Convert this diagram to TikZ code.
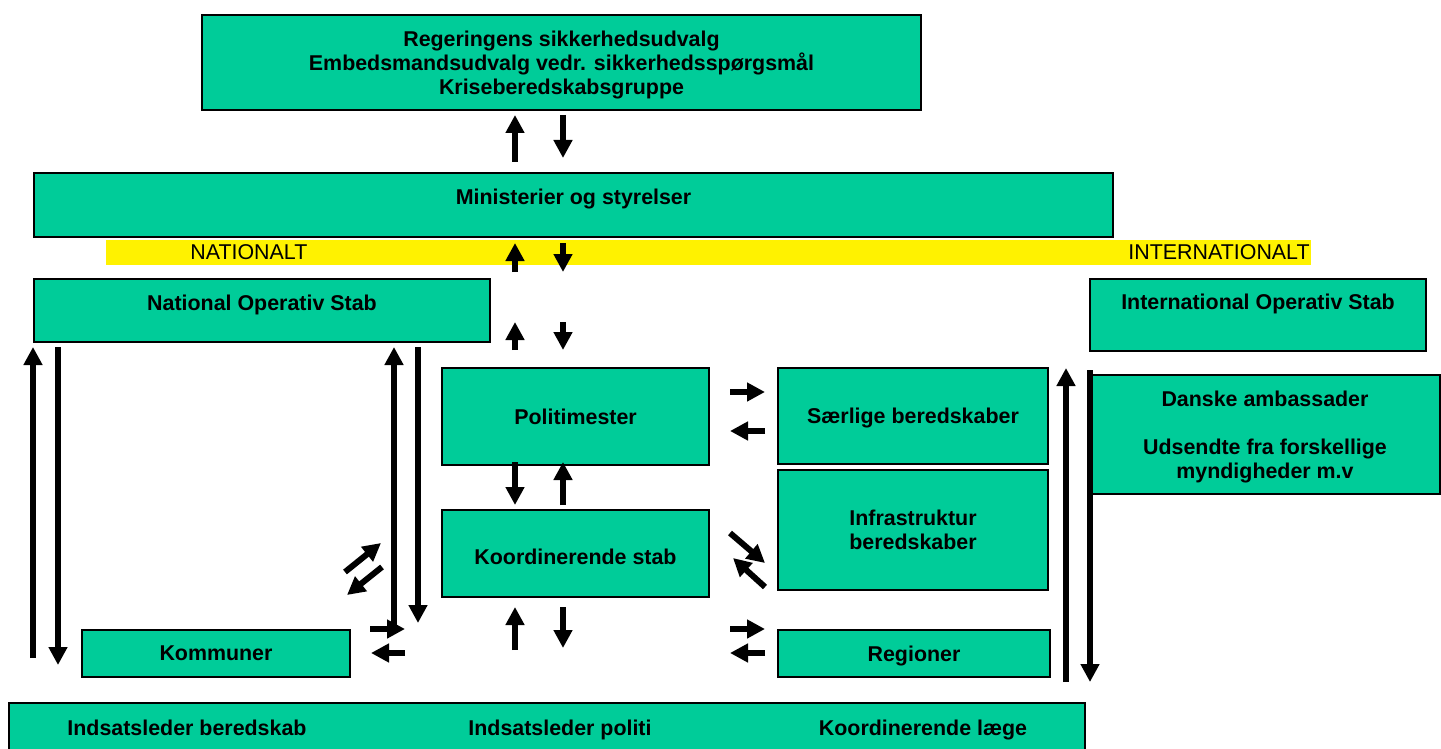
\documentclass[tikz,border=0pt]{standalone}
\usepackage{fontspec}
\setmainfont{Liberation Sans}
\usetikzlibrary{arrows.meta, positioning, calc}

\definecolor{boxgreen}{HTML}{00CC99}

\begin{document}
\begin{tikzpicture} [x=0.5pt, y=-0.5pt,
  box/.style={draw, line width=0.75pt, fill=boxgreen, align=center, inner sep=0pt, outer sep=0pt,
    text depth=0pt, font=\fontsize{10.7}{12}\selectfont\bfseries},
  lbl/.style={align=center, inner sep=0pt, text height=7.8pt, text depth=0pt,
    font=\fontsize{10.7}{12}\selectfont\bfseries},
  plain/.style={inner sep=0pt, font=\fontsize{10.7}{12}\selectfont},
  arr/.style={line width=3pt, -{Triangle[length=9pt, width=9pt]}}]

\useasboundingbox (0,0) rectangle (1441,749);

\node (rege) [box, minimum width=359.5pt, minimum height=47.5pt] at (561.5,62.5)
  {Regeringens sikkerhedsudvalg\\Embedsmandsudvalg vedr. sikkerhedsspørgsmål\\Kriseberedskabsgruppe};
\node (min) [box, minimum width=539.5pt, minimum height=32pt,
  label={[lbl, yshift=4pt]center:Ministerier og styrelser}] at (573.5,205) {};
\node (band) [fill=yellow, inner sep=0pt, outer sep=0pt, minimum width=602.5pt, minimum height=12.5pt] at (708.5,252.5) {};
\node (natl) [plain, right=42pt of band.west] {NATIONALT};
\node (intl) [plain, left=0.5pt of band.east] {INTERNATIONALT};

% operative stabe
\node (nos) [box, minimum width=228pt, minimum height=31.5pt,
  label={[lbl, yshift=4pt]center:National Operativ Stab}] at (262,310.5) {};
\node (ios) [box, minimum width=168pt, minimum height=36pt,
  label={[lbl, yshift=6.5pt]center:International Operativ Stab}] at (1258,315) {};

% midten
\node (poli) [box, minimum width=133.5pt, minimum height=48.5pt] at (575.5,416.5) {Politimester};
\node (kstab) [box, minimum width=133.5pt, minimum height=43.5pt, text height=11.4pt] at (575.5,553.5) {Koordinerende stab};
\node (saer) [box, minimum width=135pt, minimum height=48pt] at (913,416) {Særlige beredskaber};
\node (infra) [box, minimum width=135pt, minimum height=60pt] at (913,530) {Infrastruktur\\beredskaber};
\node (amb) [box, minimum width=175pt, minimum height=59.5pt] at (1265,434.5)
  {Danske ambassader\\[12pt]Udsendte fra forskellige\\myndigheder m.v};
\node (kom) [box, minimum width=134pt, minimum height=23.5pt] at (216,653.5) {Kommuner};
\node (regi) [box, minimum width=136pt, minimum height=23.5pt] at (914,653.5) {Regioner};

% indsatsledelse
\node (indsats) [box, minimum width=538pt, minimum height=30pt,
  label={[lbl, xshift=-180pt, yshift=2.5pt]center:Indsatsleder beredskab},
  label={[lbl, xshift=6.5pt, yshift=2.5pt]center:Indsatsleder politi},
  label={[lbl, xshift=188pt, yshift=2.5pt]center:Koordinerende læge}] at (547,733) {};

% lodrette par i midten
\draw [arr] ($(min.north)+(-58.5,-11)$) -- ($(rege.south)+(-46.5,5)$);
\draw [arr] ($(rege.south)+(1.5,5)$) -- ($(min.north)+(-10.5,-15)$);
\draw [arr] ($(band.south)+(-193.5,7)$) -- ($(min.south)+(-58.5,6)$);
\draw [arr] ($(min.south)+(-10.5,6)$) -- ($(band.south)+(-145.5,7)$);
\draw [arr] ($(poli.north)+(-60.5,-18)$) -- ($(band.south)+(-193.5,57)$);
\draw [arr] ($(band.south)+(-145.5,57)$) -- ($(poli.north)+(-12.5,-18)$);
\draw [arr] ($(poli.south)+(-60.5,-3)$) -- ($(kstab.north)+(-60.5,-5)$);
\draw [arr] ($(kstab.north)+(-12.5,-5)$) -- ($(poli.south)+(-12.5,-3)$);
\draw [arr] ($(indsats.north)+(-32,-53)$) -- ($(kstab.south)+(-60.5,10)$);
\draw [arr] ($(kstab.south)+(-12.5,10)$) -- ($(indsats.north)+(16,-55)$);

% til hoejre
\draw [arr] ($(poli.east)+(21,-24.5)$) -- ($(saer.west)+(-13,-24)$);
\draw [arr] ($(saer.west)+(-13,15)$) -- ($(poli.east)+(21,14.5)$);
\draw [arr] ($(kstab.east)+(21,-20.5)$) -- ($(infra.west)+(-13,33)$);
\draw [arr] ($(infra.west)+(-13,57)$) -- ($(kstab.east)+(24,4.5)$);
\draw [arr] ($(kstab.south east)+(21,32)$) -- ($(regi.west)+(-13,-24.5)$);
\draw [arr] ($(regi.west)+(-13,-0.5)$) -- ($(kstab.south east)+(21,56)$);

% til venstre
\draw [arr] ($(kom.east)+(20,-24.5)$) -- ($(kstab.west)+(-37,75.5)$);
\draw [arr] ($(kstab.west)+(-37,99.5)$) -- ($(kom.east)+(21,-0.5)$);
\draw [arr] ($(kom.north east)+(-5,-58)$) -- ($(kstab.west)+(-61,-10.5)$);
\draw [arr] ($(kstab.west)+(-60,13.5)$) -- ($(kom.north east)+(-3,-35)$);

% lange pile
\draw [arr] ($(kom.west)+(-49,4.5)$) -- ($(nos.south west)+(-1,5)$);
\draw [arr] ($(nos.south west)+(24,5)$) -- ($(kom.west)+(-24,11.5)$);
\draw [arr] ($(kom.north east)+(44,2)$) -- ($(nos.south east)+(-96,5)$);
\draw [arr] ($(nos.south east)+(-72,5)$) -- ($(kom.north east)+(68,-7)$);
\draw [arr] ($(regi.south east)+(16,5)$) -- ($(amb.north west)+(-24,-7)$);
\draw [arr] ($(amb.north west)+(0,-5)$) -- ($(regi.south east)+(40,5)$);
\end{tikzpicture}
\end{document}
